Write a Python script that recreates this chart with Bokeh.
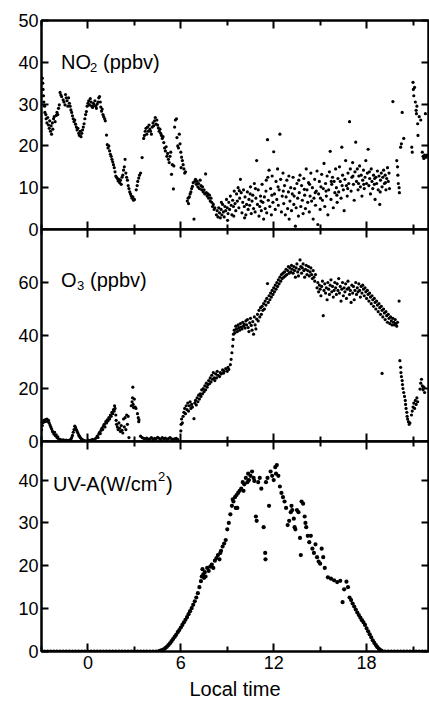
from bokeh.plotting import figure
from bokeh.models import Range1d, LinearAxis, FixedTicker, Label
from bokeh.layouts import column
from bokeh.embed import file_html
from bokeh.resources import INLINE

# ---------------- data (local time [h], value) ----------------
x_ticks = [0, 6, 12, 18]
x_minor = [-3, 3, 9, 15, 21]
no2_ticks = [0, 10, 20, 30, 40, 50]
o3_ticks = [0, 20, 40, 60]
uv_ticks = [0, 10, 20, 30, 40]

no2_pts = [
    (-2.95,36.2),(-2.92,35),(-2.9,33.5),(-2.87,32),(-2.85,30.5),(-2.8,29.5),(-2.78,28),(-2.72,27.5),(-2.7,26.5),
    (-2.65,25.5),(-2.6,26.8),(-2.55,25),(-2.5,24.2),(-2.47,26),(-2.42,23.5),(-2.38,24.8),(-2.35,22.8),(-2.3,25.5),
    (-2.27,24),(-2.22,26.5),(-2.18,27),(-2.12,25.8),(-2.05,27.3),(-2.0,28),(-1.95,27.5),(-1.9,29),(-1.85,29.8),
    (-1.8,32.8),(-1.75,32.2),(-1.7,31.8),(-1.6,31),(-1.55,30.5),(-1.48,29.8),(-1.45,32.3),(-1.4,31.5),(-1.35,30.8),
    (-1.3,29.5),(-1.25,31.5),(-1.2,30.2),(-1.15,29.5),(-1.1,28.6),(-1.05,28),(-1.0,27.2),(-0.95,26.5),(-0.9,25.8),
    (-0.85,26.2),(-0.8,25.2),(-0.75,24.5),(-0.7,23.8),(-0.65,24.2),(-0.6,23),(-0.55,22.5),(-0.5,23.5),(-0.45,22.2),
    (-0.4,23),(-0.35,23.8),(-0.3,24.5),(-0.25,25.3),(-0.2,26.5),(-0.15,27.5),(-0.1,28.2),(-0.05,29.5),(0.0,30.2),
    (0.05,30.8),(0.1,29.8),(0.15,31.3),(0.2,30.5),(0.25,29.5),(0.3,29.2),(0.35,30.2),(0.4,29.8),(0.45,30.8),
    (0.5,29.5),(0.55,29),(0.6,30),(0.65,30.5),(0.7,31.5),(0.75,31.8),(0.8,30.5),(0.83,29.3),(0.88,28.3),
    (0.92,28.8),(0.97,27.5),(1.02,27),(1.08,26.5),(1.12,26),
    (1.2,22.6),(1.25,20.3),(1.3,19.5),(1.35,20),(1.4,18.8),(1.45,18),(1.5,17.5),(1.55,16.8),(1.6,16.2),(1.65,15.5),
    (1.7,14.8),(1.75,13.8),(1.8,12.8),(1.85,12.5),(1.9,12.2),(1.95,11.6),(2.0,12),(2.05,11.2),(2.1,11.8),(2.15,10.8),
    (2.2,12.5),(2.25,13),(2.3,14.2),(2.35,15),(2.4,16.8),(2.45,13.5),(2.5,12.5),(2.55,11.8),(2.6,10.5),(2.65,9.8),
    (2.7,9),(2.75,8.5),(2.8,8),(2.85,7.5),(2.9,7.8),(2.95,7),(3.0,7.2),
    (3.12,9.5),(3.18,10.5),(3.22,11.5),(3.28,12.3),(3.33,13),(3.4,13.5),(3.5,17.2),(3.6,21.8),(3.65,22.5),(3.7,23.5),
    (3.75,24.2),(3.8,22.8),(3.85,24.5),(3.9,23.5),(3.95,25),(4.0,24),(4.05,23.5),(4.1,22.8),(4.15,24.5),(4.2,25.5),
    (4.25,24.8),(4.3,26),(4.35,26.8),(4.4,25.2),(4.45,26.2),(4.5,25),(4.55,24.3),(4.6,23.5),(4.65,24),(4.7,23),
    (4.75,22.5),(4.8,21.8),(4.85,22.2),(4.9,20.8),(4.95,19.5),(5.0,18.8),(5.05,19.8),(5.1,17.5),(5.15,18.2),(5.2,16.8),
    (5.25,16),(5.3,17.5),(5.35,18.5),(5.4,13.2),(5.45,15.5),(5.52,9.7),(5.55,15.2),(5.6,24.5),(5.65,26.2),(5.72,26.5),
    (5.75,22),(5.8,20),(5.85,19.5),(5.9,22.8),(5.95,20.5),(6.0,18.5),(6.02,14.8),(6.05,17.3),(6.1,16.5),(6.15,15.5),
    (6.2,14.5),(6.25,13.5),(6.3,13.8),
    (6.42,6.8),(6.47,7.5),(6.5,6.2),(6.55,7.8),(6.6,8.5),(6.65,9),(6.7,9.8),(6.75,10.3),(6.8,11.2),(6.85,2.5),
    (6.9,11.5),(6.95,12),(7.0,10.8),(7.05,11.5),(7.1,10.2),(7.15,11),(7.2,9.8),(7.25,11.8),(7.3,10.5),(7.35,9.5),
    (7.4,10.2),(7.45,9),(7.5,9.5),(7.55,8.5),(7.6,13.3),(7.65,8.8),(7.7,8),(7.75,8.5),(7.8,7.5),(7.85,8.2),(7.9,6.8),
    (7.95,7.5),(8.0,6.5),(8.05,5.5),(8.1,6),(8.15,4.8),(8.2,5.2),
    (8.3,3.5),(8.35,4.5),(8.4,3),(8.45,5.2),(8.5,4),(8.55,2.8),(8.6,4.8),(8.65,3.5),(8.7,6),(8.75,4.2),(8.8,3),
    (8.85,5.5),(8.9,4.5),(8.95,7.2),(9.0,5.2),(9.05,3.8),(9.1,6.5),(9.15,4.8),(9.2,8),(9.25,5.8),(9.3,3.5),(9.35,7),
    (9.4,5.5),(9.45,9.2),(9.5,6.2),(9.55,4.5),(9.6,8.5),(9.65,6.8),(9.7,10),(9.75,5.2),(9.8,7.5),(9.85,12),(9.9,8.8),
    (9.95,4),(10.0,6.5),(10.05,9.5),(10.1,5.5),(10.15,7.8),(10.2,3.5),(10.25,6),(10.3,9),(10.35,4.8),(10.4,7.2),
    (10.45,5.8),(10.5,10.2),(10.55,3.8),(10.6,6.8),(10.65,8.2),(10.7,5),(10.75,11),(10.8,4.2),(10.85,7.5),(10.9,16.5),
    (10.95,6),(11.0,9.5),(11.05,3.2),(11.1,5.5),(11.15,8),(11.2,4.5),(11.25,10.8),(11.3,6.5),(11.35,2.5),(11.4,7.8),
    (11.45,5),(11.5,9.2),(11.55,4),(11.6,21.5),(11.62,12.5),(11.65,7),(11.7,14.2),(11.75,5.5),(11.8,9.8),(11.85,3.5),
    (11.9,12.8),(11.95,6.5),(12.0,18.6),(12.05,8.5),(12.1,4.8),(12.15,11.5),(12.2,7.2),(12.25,14.5),(12.3,5.8),
    (12.35,9.5),(12.4,22.8),(12.45,12),(12.5,4.2),(12.55,8),(12.6,13.5),(12.65,6.2),(12.7,10.5),(12.75,3.5),(12.8,7.8),
    (12.85,11.8),(12.9,5),(12.95,9),(13.0,2.5),(13.05,6.8),(13.1,10),(13.15,4.5),(13.2,8.5),(13.25,12.5),(13.3,6),
    (13.35,9.8),(13.4,0.8),(13.45,5.2),(13.5,11),(13.55,7.5),(13.6,3.2),(13.65,8.8),(13.7,13),(13.75,5.5),(13.8,10.5),
    (13.85,7),(13.9,3.8),(13.95,12.2),(14.0,8.2),(14.05,5),(14.1,14.5),(14.15,9.5),(14.2,6.5),(14.25,11.2),(14.3,4.2),
    (14.35,8),(14.4,13.5),(14.45,6.8),(14.5,10),(14.55,2.5),(14.6,7.5),(14.65,12),(14.7,5.8),(14.75,9.2),(14.8,14),
    (14.85,1.2),(14.9,8.5),(14.95,11.5),(15.0,4.8),(15.05,10.2),(15.1,13.2),(15.15,7),(15.2,9.8),(15.25,15.8),
    (15.3,5.5),(15.35,11),(15.4,8),(15.45,12.8),(15.5,3.5),(15.55,9.5),(15.6,13.8),(15.65,18.7),(15.7,7.2),(15.75,10.8),
    (15.8,12.5),(15.85,5.2),(15.9,11.5),(15.95,8.8),(16.0,14.5),(16.05,10),(16.1,6.5),(16.15,12.2),(16.2,9),(16.25,15),
    (16.3,11.5),(16.35,7.5),(16.4,19.7),(16.45,13),(16.5,9.5),(16.55,4.5),(16.6,12),(16.65,16.5),(16.7,10.5),(16.75,8),
    (16.8,13.5),(16.85,11),(16.9,25.8),(16.95,14.5),(17.0,9.2),(17.05,12.5),(17.1,16),(17.15,10.8),(17.2,7),
    (17.25,13.8),(17.3,20.9),(17.35,11.5),(17.4,14.5),(17.45,9.5),(17.5,12.8),(17.55,15.2),(17.6,10.2),(17.65,13),
    (17.7,8),(17.75,11.8),(17.8,14.2),(17.85,9.8),(17.9,12.5),(17.95,16.5),(18.0,11),(18.05,13.5),(18.1,19.2),
    (18.15,10.5),(18.2,12.2),(18.25,8.5),(18.3,14.5),(18.35,11.5),(18.4,9.8),(18.45,13),(18.5,10.8),(18.55,7.2),
    (18.6,12.5),(18.65,11),(18.7,14),(18.75,9.5),(18.8,12.8),(18.85,6),(18.9,11.8),(18.95,13.5),(19.0,10.2),
    (19.05,12.5),(19.1,14.2),(19.15,11),(19.2,13),(19.25,9.5),(19.3,12.2),(19.35,14.8),(19.4,11.5),(19.45,13.5),
    (19.7,30.6),(19.95,16.5),(20.0,15),(20.02,13),(20.05,11),(20.1,10),(20.12,8.8),(20.2,19.7),(20.25,20.5),
    (20.3,28),(20.4,21.8),(20.92,19.7),(20.95,18.5),(21.0,35.2),(21.02,33.5),(21.05,32),(21.1,34),(21.15,30.5),
    (21.2,28.5),(21.22,27.7),(21.25,29.5),(21.3,25.3),(21.32,22.5),(21.4,27),(21.5,26.2),(21.6,18.5),(21.65,17.5),
    (21.7,17),(21.75,17.8),(21.8,27.7),(21.85,17.3),(21.9,17.8),
    (8.62,6.5),(9.02,2.2),(9.42,3.2),(9.78,9.3),(10.12,2.8),(10.48,8.5),(10.82,9.8),(11.18,6.8),(11.52,11.8),
    (11.88,8.2),(12.28,10.2),(12.62,9.2),(12.98,12.8),(13.32,8),(13.62,11.8),(13.98,9.6),(14.32,10.8),(14.68,8.8),
    (15.02,7.5),(15.38,9.2),(15.72,11.5),(16.08,8.2),(16.42,10.5),(16.78,9.8),(17.12,12.8),(17.48,11),(17.82,10.8),
    (18.18,13.8),(18.52,12.2),(18.88,9),(19.22,11.2),(19.48,9.8),
]

o3_pts = [
    (-3.0,4.5),(-2.95,6),(-2.9,7.2),(-2.85,8),(-2.8,7.5),(-2.75,8.3),(-2.7,7.8),(-2.65,8.5),(-2.6,7.5),(-2.55,8),
    (-2.5,7),(-2.45,6.2),(-2.4,5.5),(-2.35,4.8),(-2.3,4),(-2.25,3.5),(-2.2,2.8),(-2.15,3.5),(-2.1,2.2),(-2.05,2.5),
    (-2.0,1.5),(-1.95,1.8),(-1.9,1.0),(-1.8,0.8),(-1.7,0.5),(-1.6,0.6),(-1.5,0.4),(-1.4,0.5),(-1.3,0.3),(-1.2,0.5),
    (-1.1,0.8),(-1.05,1.5),(-1.0,2.3),(-0.95,3.5),(-0.9,4.5),(-0.85,5.8),(-0.8,5.2),(-0.75,4.5),(-0.7,3.8),
    (-0.65,3.2),(-0.6,2.5),(-0.55,2),(-0.5,1.5),(-0.45,1.2),(-0.4,0.8),(-0.3,0.5),(-0.2,0.3),(0.0,0.5),(0.1,0.3),
    (0.2,0.5),(0.3,0.8),(0.4,0.5),(0.5,1.2),(0.6,2),(0.65,1.5),(0.7,2.8),(0.75,3.5),(0.8,3),(0.85,4.2),(0.9,5),
    (0.95,4.5),(1.0,5.8),(1.05,6.5),(1.1,5.5),(1.15,7.5),(1.2,7),(1.25,8.2),(1.3,7.8),(1.35,9),(1.4,8.5),(1.45,10),
    (1.5,9.5),(1.55,11),(1.6,10.5),(1.65,12),(1.7,11.5),(1.72,13.5),(1.75,12.5),(1.8,10),(1.82,8),(1.85,6.5),
    (1.9,5.5),(1.95,4.5),(2.0,7),(2.05,5),(2.1,3.8),(2.15,6),(2.2,4.2),(2.25,3.2),(2.3,8.5),(2.35,5.5),(2.4,9),
    (2.45,4.5),(2.5,10),(2.55,6.5),(2.6,9.5),(2.65,1.5),(2.8,13.5),(2.85,15),(2.88,16.5),(2.9,20.5),(2.92,14),
    (2.95,12.8),(3.0,16),(3.05,13),(3.1,12.5),(3.2,10.5),(3.25,9),(3.28,7.5),(3.3,8.2),(3.4,2),(3.5,1.5),(3.6,1.2),
    (3.7,1),(3.8,1.3),(3.9,0.8),(4.0,1),(4.1,1.5),(4.2,0.8),(4.3,1.2),(4.4,1),(4.5,1.6),(4.6,1.2),(4.7,0.8),
    (4.8,1.5),(4.9,1),(5.0,1.3),(5.1,0.8),(5.2,1.1),(5.3,1.5),(5.4,1),(5.5,0.8),(5.6,1),(5.7,1.2),(5.8,0.8),
    (6.0,4),(6.02,6.5),(6.05,8.5),(6.1,7),(6.15,9.5),(6.2,11),(6.25,12.5),(6.3,10.5),(6.35,13.5),(6.4,12),
    (6.45,14.5),(6.5,11.5),(6.55,13.5),(6.6,15),(6.65,12.5),(6.7,14),(6.75,13),(6.85,8.6),(6.9,14.5),(6.95,15.5),
    (7.0,13.8),(7.05,16.5),(7.1,15),(7.15,17.5),(7.2,16),(7.25,18),(7.3,17),(7.35,19.5),(7.4,18),(7.45,20),
    (7.5,18.8),(7.55,21),(7.6,19.5),(7.65,22),(7.7,20.5),(7.75,21.5),(7.8,23),(7.85,21.8),(7.9,24),(7.95,22.5),
    (8.0,25),(8.05,23.5),(8.1,26),(8.15,24),(8.2,23),(8.25,25.5),(8.3,24),(8.35,26.5),(8.4,25),(8.5,24.5),
    (8.55,26),(8.6,25.5),(8.7,27),(8.75,25.8),(8.8,26.5),(8.9,27.5),(9.0,26.5),(9.05,28),(9.1,27.2),(9.2,29),
    (9.25,31),(9.3,33.5),(9.35,36),(9.38,38.5),
    (9.4,40.5),(9.45,42),(9.5,41),(9.55,43.5),(9.6,42.5),(9.65,41.5),(9.7,44),(9.75,43),(9.8,42),(9.85,44.5),
    (9.9,43.2),(9.95,42.5),(10.0,45),(10.05,43.5),(10.1,44.2),(10.15,42.8),(10.2,45.5),(10.25,44),(10.3,46),
    (10.35,43),(10.4,41.5),(10.45,44.8),(10.5,46.5),(10.55,43.8),(10.6,42),(10.65,45.2),(10.7,40.5),(10.75,47),
    (10.8,44),(10.85,42.5),(10.9,46.2),(10.95,48),
    (11.0,45.5),(11.05,49.5),(11.1,47),(11.15,50.5),(11.2,48),(11.25,51),(11.3,49.5),(11.35,52),(11.4,50),
    (11.45,53),(11.5,51.5),(11.55,54),(11.6,59.6),(11.65,52.5),(11.7,55),(11.75,53.5),(11.8,56),(11.85,54.5),
    (11.9,57),(11.95,55.5),(12.0,58),(12.05,56.5),(12.1,59),(12.15,57.5),(12.2,60),(12.25,58.5),(12.3,61),
    (12.35,59.5),(12.4,62),(12.45,60.5),(12.5,63),(12.55,61.5),(12.6,63.5),(12.65,62),(12.7,64),(12.75,62.5),
    (12.8,65),(12.85,63),(12.9,64.5),(12.95,66),(13.0,63.5),(13.05,65.5),(13.1,64),(13.15,66.5),(13.2,65),
    (13.25,63.5),(13.3,66),(13.35,64.5),(13.4,62),(13.45,65.5),(13.5,67),(13.55,64),(13.6,62.5),(13.65,65),
    (13.7,68.5),(13.75,66),(13.8,63.5),(13.85,65.5),(13.9,67),(13.95,64.5),(14.0,62),(14.05,65),(14.1,66.5),
    (14.15,63),(14.2,64.5),(14.25,66),(14.3,62.5),(14.35,64),(14.4,65.5),(14.45,63),(14.5,61.5),(14.55,64.5),
    (14.6,62),(14.65,60.5),(14.7,63),
    (14.8,58),(14.85,60),(14.9,56.5),(14.95,59),(15.0,57.5),(15.05,55),(15.1,58.5),(15.15,60.5),(15.2,47.5),
    (15.25,57),(15.3,59.5),(15.35,56),(15.4,58),(15.45,53.5),(15.5,60),(15.55,57.5),(15.6,55.5),(15.65,59),
    (15.7,61),(15.75,56.5),(15.8,58.5),(15.85,54.5),(15.9,57),(15.95,60),(16.0,58),(16.05,55.5),(16.1,59.5),
    (16.15,57),(16.2,61.5),(16.25,56),(16.3,58.5),(16.35,53),(16.4,57.5),(16.45,60),(16.5,55),(16.55,58),
    (16.6,56.5),(16.65,59.5),(16.7,54),(16.75,57.5),(16.8,60.5),(16.85,58),(16.9,55.5),(16.95,57),(17.0,52.5),
    (17.05,59),(17.1,56),(17.15,58.5),(17.2,53.5),(17.25,57),(17.3,60),(17.35,55.5),(17.4,58),(17.45,56.5),
    (17.5,59.5),(17.55,57),(17.6,54.5),(17.65,58.5),(17.7,56),(17.75,59),(17.8,57.5),(17.85,55),(17.9,58),
    (17.95,56.5),(18.0,54),
    (18.05,57),(18.1,55.5),(18.15,53),(18.2,56),(18.25,54.5),(18.3,52),(18.35,55),(18.4,53.5),(18.45,51),
    (18.5,54),(18.55,52.5),(18.6,50),(18.65,53),(18.7,51.5),(18.75,49),(18.8,52),(18.85,50.5),(18.9,48),
    (18.95,51),(19.0,49.5),(19.05,47),(19.1,50),(19.15,48.5),(19.2,46),(19.25,49),(19.3,47.5),(19.35,45),
    (19.4,48),(19.45,46.5),(19.5,44.5),(19.55,47),(19.6,45.5),(19.65,44),(19.7,46.5),(19.75,45),(19.8,44),
    (19.85,46),(19.9,44.5),(19.95,43.5),(20.0,45),(20.1,53),(19.0,25.7),
    (20.15,30.5),(20.2,28),(20.22,26),(20.25,24.5),(20.3,23),(20.32,21.5),(20.35,20),(20.4,18.5),(20.45,17),
    (20.5,15.5),(20.52,14),(20.55,12.5),(20.6,11),(20.62,9.5),(20.65,8.5),(20.7,7.5),(20.75,6.5),(20.8,7),
    (20.9,10),(20.95,11.5),(21.0,13),(21.05,14.5),(21.1,12.5),(21.15,15.5),(21.2,14),(21.25,16.5),(21.3,15),
    (21.45,19.8),(21.5,22),(21.55,23.5),(21.6,21),(21.65,19.5),(21.7,20.5),(21.75,18.5),
]

uv_pts = [
    (-3.0,0),(-2.8,0),(-2.6,0),(-2.4,0),(-2.2,0),(-2.0,0),(-1.8,0),(-1.6,0),(-1.4,0),(-1.2,0),(-1.0,0),
    (-0.8,0),(-0.6,0),(-0.4,0),(-0.2,0),(0.0,0),(0.2,0),(0.4,0),(0.6,0),(0.8,0),(1.0,0),(1.2,0),(1.4,0),
    (1.6,0),(1.8,0),(2.0,0),(2.2,0),(2.4,0),(2.6,0),(2.8,0),(3.0,0),(3.2,0),(3.4,0),(3.6,0),(3.8,0),(4.0,0),
    (4.2,0),(4.4,0),(4.6,0.1),(4.7,0.2),(4.8,0.3),(4.9,0.5),(5.0,0.8),(5.1,1.1),(5.2,1.5),(5.3,1.9),(5.4,2.4),
    (5.5,2.9),(5.6,3.4),(5.7,3.9),(5.8,4.5),(5.9,5.0),(6.0,5.6),(6.1,6.2),(6.2,6.8),(6.3,7.4),(6.4,8.0),
    (6.5,8.7),(6.6,9.4),(6.7,10.1),(6.8,10.9),(6.9,11.7),(7.0,12.6),(7.1,13.6),(7.2,15),(7.3,16.4),(7.35,17.5),
    (7.4,19.2),(7.45,18),(7.5,17.2),(7.55,18.5),(7.6,17.5),(7.7,19.5),(7.8,18.8),(7.9,19.8),(8.0,20.3),
    (8.1,19.5),(8.2,21.2),(8.3,21.8),(8.4,22.5),(8.5,21.5),(8.55,23),(8.6,23.5),(8.7,24.5),(8.8,25.2),(8.9,26),
    (9.0,28.5),(9.1,30),(9.2,32),(9.3,34),(9.35,35.5),(9.4,35),(9.5,36),(9.55,33.5),(9.6,36.5),(9.65,33.5),
    (9.7,37),(9.8,37.5),(9.9,38),(10.0,39.5),(10.05,37.5),(10.1,39),(10.2,40.5),(10.3,39.5),(10.35,41.5),
    (10.4,40),(10.5,41),(10.6,42),(10.7,40.5),(10.75,39.8),(10.85,31.5),(10.9,30.5),(11.0,39.5),(11.1,40.5),
    (11.2,38),(11.35,29),(11.45,23),(11.47,21.5),(11.5,39.5),(11.6,40.5),(11.7,34),(11.8,42),(11.9,41),
    (12.0,40),(12.1,43),(12.15,41.5),(12.2,43.5),(12.3,41),(12.4,38.5),(12.5,37),(12.6,36),(12.7,35),
    (12.8,33.5),(12.9,29.5),(13.0,30.5),(13.1,32.5),(13.15,34),(13.2,33),(13.3,31),(13.35,29),(13.4,28.5),
    (13.5,33),(13.6,32.5),(13.7,26.5),(13.75,22.5),(13.8,35),(13.9,34.5),(14.0,31.5),(14.05,30),(14.1,29),
    (14.2,27),(14.3,25.5),(14.4,27),(14.5,24),(14.6,23),(14.7,25),(14.8,22),(14.9,21),(15.0,20.5),(15.1,24),
    (15.2,22),(15.3,19.5),(15.5,17.3),(15.7,17),(15.9,16.6),(16.1,16.2),(16.3,16.5),(16.45,11.5),(16.55,14.5),
    (16.7,16.3),(16.8,15),(16.9,12.6),(17.0,12),(17.1,11.2),(17.2,10.5),(17.3,9.8),(17.4,9.1),(17.5,8.5),
    (17.6,7.9),(17.7,7.3),(17.8,6.8),(17.9,6.2),(18.0,5.4),(18.1,4.7),(18.2,4.0),(18.3,3.3),(18.4,2.6),
    (18.5,2.0),(18.6,1.5),(18.7,1.0),(18.8,0.6),(18.9,0.3),(19.0,0.1),(19.2,0),(19.4,0),(19.6,0),(19.8,0),
    (20.0,0),(20.2,0),(20.4,0),(20.6,0),(20.8,0),(21.0,0),(21.2,0),(21.4,0),(21.6,0),(21.8,0),(22.0,0),
]

no2_t, no2_v = [list(a) for a in zip(*no2_pts)]
o3_t, o3_v = [list(a) for a in zip(*o3_pts)]
uv_t, uv_v = [list(a) for a in zip(*uv_pts)]

# ---------------- styling ----------------
FONT = "Liberation Sans"
TICK_FS = "18px"
LABEL_FS = "20px"
GAP = 10
x_range = Range1d(-3, 22)


def style_axis(ax, ticks, show_labels, tick_in=8, minor_in=0):
    ax.major_tick_in = tick_in
    ax.major_tick_out = 0
    ax.minor_tick_in = minor_in
    ax.minor_tick_out = 0
    ax.major_tick_line_width = 2
    ax.minor_tick_line_width = 2
    ax.major_tick_line_color = "black"
    ax.minor_tick_line_color = "black"
    ax.axis_line_width = 2
    ax.axis_line_color = "black"
    ax.major_label_text_font = FONT
    ax.major_label_text_color = "black"
    ax.major_label_text_font_size = TICK_FS
    if show_labels:
        ax.major_label_standoff = 3
    else:
        ax.major_label_overrides = {t: "" for t in ticks}
        ax.major_label_standoff = 0


def panel(y_end, yticks, frame_h, top, bottom, xs, ys, size, show_x_labels=False):
    p = figure(frame_width=387, frame_height=frame_h, x_range=x_range,
               y_range=Range1d(0, y_end), x_axis_type=None, y_axis_type=None,
               toolbar_location=None, output_backend="svg",
               min_border_left=41, min_border_right=1,
               min_border_top=top, min_border_bottom=bottom)
    p.outline_line_color = "black"
    p.outline_line_width = 2
    p.background_fill_color = "white"
    p.border_fill_color = "white"

    left = LinearAxis(ticker=FixedTicker(ticks=yticks, minor_ticks=[]))
    style_axis(left, yticks, True, tick_in=7)
    p.add_layout(left, "left")
    right = LinearAxis(ticker=FixedTicker(ticks=yticks, minor_ticks=[]))
    style_axis(right, yticks, False, tick_in=7)
    p.add_layout(right, "right")

    top_ax = LinearAxis(ticker=FixedTicker(ticks=x_ticks, minor_ticks=x_minor))
    style_axis(top_ax, x_ticks, False, tick_in=8, minor_in=5)
    p.add_layout(top_ax, "above")
    bot_ax = LinearAxis(ticker=FixedTicker(ticks=x_ticks, minor_ticks=x_minor))
    style_axis(bot_ax, x_ticks, show_x_labels, tick_in=8, minor_in=5)
    if show_x_labels:
        bot_ax.major_label_standoff = 4
        bot_ax.axis_label = "Local time"
        bot_ax.axis_label_text_font = FONT
        bot_ax.axis_label_text_font_size = LABEL_FS
        bot_ax.axis_label_text_font_style = "normal"
        bot_ax.axis_label_text_color = "black"
        bot_ax.axis_label_standoff = 6
    p.add_layout(bot_ax, "below")

    p.scatter(xs, ys, size=size, color="black", line_color=None)
    return p


def add_label(p, x, y, parts):
    for text, dx, dy, fs in parts:
        p.add_layout(Label(x=x, y=y, x_offset=dx, y_offset=dy, text=text,
                           text_font=FONT, text_font_size=fs, text_color="black",
                           text_baseline="alphabetic", text_align="left"))


p1 = panel(50, no2_ticks, 209, 20, GAP, no2_t, no2_v, 3.2)
add_label(p1, -1.74, 40, [("NO", 0, 0, LABEL_FS), ("2", 29, -5, "13px"), ("(ppbv)", 42, 0, LABEL_FS)])

p2 = panel(80, o3_ticks, 212, GAP, GAP, o3_t, o3_v, 3.2)
add_label(p2, -1.74, 60.8, [("O", 0, 0, LABEL_FS), ("3", 16, -5, "13px"), ("(ppbv)", 29, 0, LABEL_FS)])

p3 = panel(49, uv_ticks, 210, GAP, 51, uv_t, uv_v, 4.2, show_x_labels=True)
add_label(p3, -2.26, 39, [("UV-A(W/cm", 0, 0, LABEL_FS), ("2", 105, 8, "13px"), (")", 113, 0, LABEL_FS)])

# lower panels overlap the previous panel's bottom border so that the
# "0" tick labels at the shared edges are not clipped
for q in (p2, p3):
    q.border_fill_alpha = 0
    q.margin = (-2 * GAP, 0, 0, 0)

layout = column(p1, p2, p3, spacing=0)
open("out.html", "w").write(file_html(layout, INLINE))
